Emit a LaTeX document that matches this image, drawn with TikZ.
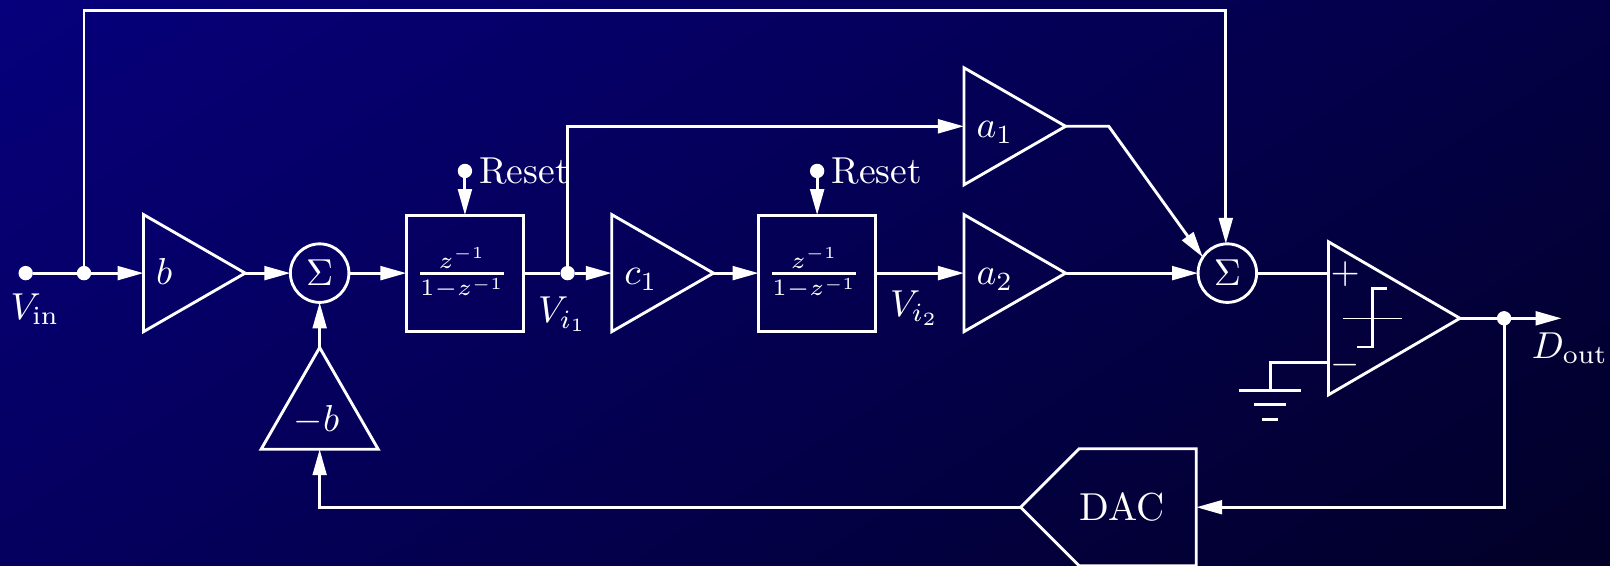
\documentclass[tikz,border=0pt]{standalone}
\usepackage{fix-cm}
\usepackage{amsmath}
\usepackage{tikz}
\usetikzlibrary{shapes.geometric, shapes.symbols, arrows.meta, positioning, calc}

\newcommand{\amptext}[1]{\makebox[0.62cm][l]{\raisebox{-0.11cm}[0pt][0pt]{$#1$}}}
\newcommand{\delaytext}{\fontsize{9.3}{12}\selectfont$\genfrac{}{}{0.8pt}{1}{z^{-1}}{1-z^{-1}}$\kern0.06cm}

\begin{document}
\begin{tikzpicture}[
  line width=0.8pt, draw=white, text=white,
  every node/.style={font=\fontsize{10.4}{12.5}\selectfont},
  amp/.style={isosceles triangle, isosceles triangle stretches, draw, outer sep=0pt, inner sep=0pt, minimum width=1.14cm, minimum height=0.99cm},
  sumnode/.style={circle, draw, outer sep=0pt, inner sep=0pt, minimum size=0.57cm},
  delay/.style={rectangle, draw, outer sep=0pt, inner xsep=0pt, minimum width=1.14cm, minimum height=1.13cm},
  dot/.style={circle, fill=white, outer sep=0pt, inner sep=0pt, minimum size=0.14cm},
  tag/.style={inner sep=0pt, outer sep=0pt},
  arrow/.style={-{Triangle[length=7.2pt,width=3.8pt]}, white}
]
  \begin{scope}
    \clip (0,0) rectangle (15.68,5.51);
    \begin{scope}[shift={(7.84,2.755)}, rotate=33]
      \foreach \k [evaluate=\k as \blu using int(124-\k), evaluate=\k as \rd using int((124-\k)/18)] in {0,...,86}
        \fill[color={rgb,255:red,\rd;green,0;blue,\blu}] (-12,{6.58-\k*13.16/86}) rectangle (12,-7);
    \end{scope}
  \end{scope}
  \useasboundingbox (0,0) rectangle (15.68,5.51);

  \node[dot] (vin) at (0.25,2.85) {};
  \node[dot, right=0.428cm of vin] (jin) {};
  \node[amp, right=0.51cm of jin] (b) {\amptext{b}};
  \node[sumnode, right=0.44cm of b] (sum1) {$\Sigma$};
  \node[delay, right=0.56cm of sum1] (int1) {\delaytext};
  \node[dot, right=0.36cm of int1] (vi1) {};
  \node[amp, right=0.36cm of vi1] (c1) {\amptext{c_1}};
  \node[delay, right=0.44cm of c1] (int2) {\delaytext};
  \node[amp, right=0.86cm of int2] (a2) {\amptext{a_2}};
  \node[amp, above=1.43cm of a2.lower side, anchor=lower side] (a1) {\amptext{a_1}};
  \node[sumnode, right=1.29cm of a2] (sum2) {$\Sigma$};
  \node[isosceles triangle, isosceles triangle stretches, draw, outer sep=0pt, inner sep=0pt, minimum width=1.49cm, minimum height=1.28cm, right=0.70cm of sum2, yshift=-0.44cm] (comp) {};
  \node[dot, right=0.36cm of comp] (out) {};
  \coordinate[right=0.49cm of out] (outend);
  \node[dot, above=0.36cm of int1] (rst1) {};
  \node[dot, above=0.36cm of int2] (rst2) {};
  \node[tag, right=0.07cm of rst1] (rl1) {Reset};
  \node[tag, right=0.07cm of rst2] (rl2) {Reset};
  \node[amp, shape border rotate=90, minimum width=1.14cm, minimum height=0.99cm, below=0.44cm of sum1, anchor=apex] (nb) {\makebox[0.50cm][l]{\raisebox{-0.015cm}[0pt][0pt]{$-b$}}};
  \node[signal, signal to=west, signal pointer angle=90, draw, outer sep=0pt, inner xsep=0pt, minimum width=1.71cm, minimum height=1.14cm] (dac) at (11.08,0.57) {\makebox[1.13cm][l]{\fontsize{10.8}{13}\selectfont DAC}};

  \node[tag, below=0.13cm of vin, xshift=0.09cm] (lin) {$V_{\text{in}}$};
  \node[tag, below=0.16cm of vi1, xshift=-0.05cm] (li1) {$V_{i_1}$};
  \node[tag, below right=0.17cm and 0.14cm of int2.east] (li2) {$V_{i_2}$};
  \node[tag, below=0.14cm of outend, xshift=0.08cm] (lout) {$D_{\text{out}}$};

  \node[tag] (plus) at (13.10,2.84) {$+$};
  \node[tag] (minus) at (13.10,1.95) {$-$};
  \coordinate (gnd) at (12.37,1.71);
  \coordinate (cp) at (13.365,2.41);

  \draw[arrow] (jin) -- (b.lower side);
  \draw (vin) -- (jin);
  \draw[arrow] (b.apex) -- (sum1);
  \draw[arrow] (sum1) -- (int1);
  \draw (int1) -- (vi1);
  \draw[arrow] (vi1) -- (c1.lower side);
  \draw[arrow] (c1.apex) -- (int2);
  \draw[arrow] (int2) -- (a2.lower side);
  \draw[arrow] (a2.apex) -- (sum2);
  \draw[arrow] (vi1) |- (a1.lower side);
  \draw[arrow] (a1.apex) -- ++(0.42,0) -- (sum2.147);
  \draw[arrow] (jin) -- ++(0,2.56) -| ([xshift=-0.015cm]sum2.north);
  \draw[arrow] (rst1) -- (int1);
  \draw[arrow] (rst2) -- (int2);
  \draw[arrow] (nb.apex) -- (sum1);
  \draw (sum2) -- (sum2 -| comp.lower side);
  \draw (comp.apex) -- (out);
  \draw[arrow] (out) -- (outend);
  \draw[arrow] (out) |- (dac.east);
  \draw[arrow] (dac.west) -| (nb.lower side);
  \draw (gnd) |- ($(comp.lower side)+(0,-0.43)$);
  \foreach \dy/\hw in {0/0.30, 0.14/0.155, 0.285/0.08}
    \draw ($(gnd)+(-\hw,-\dy)$) -- ($(gnd)+(\hw,-\dy)$);
  \draw[line width=0.4pt] ($(cp)+(-0.29,0)$) -- ($(cp)+(0.29,0)$);
  \draw ($(cp)+(-0.15,-0.28)$) -- ($(cp)+(0,-0.28)$) -- ($(cp)+(0,0.29)$) -- ($(cp)+(0.14,0.29)$);
\end{tikzpicture}
\end{document}
